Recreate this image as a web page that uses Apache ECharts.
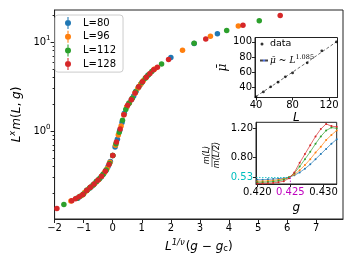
<!DOCTYPE html>
<html><head><meta charset="utf-8">
<script src="https://cdn.jsdelivr.net/npm/echarts@6/dist/echarts.min.js"></script>
<style>html,body{margin:0;padding:0;background:#fff}#c{width:347px;height:263px}</style>
</head><body><div id="c"></div>
<script>
// ---- main collapse plot data ----
const seriesNames = ['L=80', 'L=96', 'L=112', 'L=128'];
const L80_x = [-1.2,-0.88,-0.8,-0.72,-0.64,-0.56,-0.48,-0.4,-0.32,-0.24,-0.16,-0.08,0,0.08,0.16,0.24,0.32,0.4,0.48,0.56,0.64,0.72,0.8,0.88,0.96,1.2,2.0,2.8,3.6];
const L80_y = [0.176,0.217,0.228,0.240,0.254,0.270,0.286,0.305,0.329,0.358,0.40,0.455,0.53,0.66,0.81,1.01,1.25,1.58,1.86,2.05,2.24,2.48,2.80,3.08,3.36,4.20,6.70,9.6,12.4];
const L96_x = [-1.44,-1.056,-0.96,-0.864,-0.768,-0.672,-0.576,-0.48,-0.384,-0.288,-0.192,-0.096,0,0.096,0.192,0.288,0.384,0.48,0.576,0.672,0.768,0.864,0.96,1.056,1.152,1.44,2.4,3.36,4.32];
const L96_y = [0.163,0.190,0.205,0.219,0.233,0.248,0.266,0.286,0.310,0.339,0.38,0.445,0.53,0.69,0.90,1.14,1.52,1.86,2.08,2.33,2.67,3.02,3.36,3.70,4.03,4.96,8.07,11.6,15.1];
const L112_x = [-1.68,-1.232,-1.12,-1.008,-0.896,-0.784,-0.672,-0.56,-0.448,-0.336,-0.224,-0.112,0,0.112,0.224,0.336,0.448,0.56,0.672,0.784,0.896,1.008,1.12,1.232,1.344,1.68,2.8,3.92,5.04];
const L112_y = [0.149,0.176,0.185,0.196,0.215,0.231,0.248,0.270,0.293,0.324,0.365,0.43,0.53,0.72,0.97,1.32,1.75,2.05,2.33,2.74,3.14,3.53,3.92,4.30,4.65,5.65,9.67,13.5,17.3];
const L128_x = [-1.92,-1.408,-1.28,-1.152,-1.024,-0.896,-0.768,-0.64,-0.512,-0.384,-0.256,-0.128,0,0.128,0.256,0.384,0.512,0.64,0.768,0.896,1.024,1.152,1.28,1.408,1.536,1.92,3.2,4.48,5.76];
const L128_y = [0.135,0.165,0.173,0.182,0.193,0.215,0.233,0.254,0.279,0.310,0.352,0.42,0.53,0.75,1.05,1.52,1.95,2.24,2.67,3.14,3.58,4.03,4.44,4.87,5.22,6.35,10.8,15.4,19.8];
const mainXTicks = [-2,-1,0,1,2,3,4,5,6,7];
const mainYTicks = [1, 10];
const mainYMinorTicks = [0.2,0.3,0.4,0.5,0.6,0.7,0.8,0.9,2,3,4,5,6,7,8,9,20];

// ---- inset 1: mu vs L ----
const muL = [40,48,56,64,72,80,96,112,128];
const muVal = [27.6,34.2,40.8,47.0,54.0,59.2,72.4,88.2,100.0];
const fitL = [40,64,96,128];
const fitMu = [28.3,47.2,73.3,100.1];
const in1XTicks = [40,80,120];
const in1YTicks = [40,60,80,100];

// ---- inset 2: m(L)/m(L/2) vs g ----
const gVals = [0.4200,0.4208,0.4216,0.4224,0.4232,0.4240,0.4248,0.4256,0.4264,0.4272,0.4280,0.4288,0.4296,0.4304,0.4312,0.4320];
const r80  = [0.50,0.50,0.505,0.51,0.515,0.52,0.535,0.56,0.60,0.65,0.71,0.78,0.85,0.92,0.99,1.05];
const r96  = [0.48,0.48,0.485,0.49,0.50,0.51,0.535,0.57,0.63,0.70,0.78,0.87,0.95,1.04,1.11,1.17];
const r112 = [0.465,0.465,0.47,0.475,0.485,0.50,0.53,0.59,0.68,0.78,0.88,0.99,1.09,1.17,1.21,1.20];
const r128 = [0.45,0.45,0.452,0.457,0.467,0.48,0.52,0.60,0.73,0.85,0.97,1.09,1.19,1.26,1.23,1.22];
const gCross = 0.425, rCross = 0.53;
const in2XTicks = [0.420,0.425,0.430];
const in2YTicks = [0.53,0.80,1.20];

const colors = ['#1f77b4','#ff7f0e','#2ca02c','#d62728'];
const FONT = 'DejaVu Sans';
const zip = (a,b) => a.map((v,i)=>[v,b[i]]);
const mainX = [L80_x, L96_x, L112_x, L128_x];
const mainY = [L80_y, L96_y, L112_y, L128_y];
const ratios = [r80, r96, r112, r128];
const errIcon = 'path://M9.3,2h1.4v16h-1.4z M14,10a4,4 0 1,1 -8,0a4,4 0 1,1 8,0z';
const dotIcon = 'path://M0,0h0.01v0.01h-0.01z M8,3h-0.01v-0.01h0.01z M3.5,1.5a1.5,1.5 0 1,1 -3,0a1.5,1.5 0 1,1 3,0z';

const axisCol = '#222';
const baseLabel = {fontFamily: FONT, fontSize: 10, color: '#000'};
const line = {onZero: false, lineStyle: {color: axisCol}};

const option = {
  animation: false,
  backgroundColor: '#fff',
  grid: [
    {left: 51, top: 10, width: 292, height: 209, show: true, borderColor: axisCol, borderWidth: 1, backgroundColor: 'transparent'},
    {left: 255, top: 37.5, width: 82.5, height: 60, show: true, borderColor: axisCol, borderWidth: 1, backgroundColor: '#fff'},
    {left: 256, top: 122.3, width: 80.7, height: 61.7, show: true, borderColor: axisCol, borderWidth: 1, backgroundColor: '#fff'}
  ],
  xAxis: [
    {gridIndex: 0, type: 'value', min: -2, max: 7.92, position: 'bottom',
     axisLine: line, splitLine: {show: false},
     axisTick: {customValues: mainXTicks, length: 4, lineStyle: {color: axisCol}},
     axisLabel: Object.assign({customValues: mainXTicks, margin: 4, formatter: v => String(v).replace('-', '\u2212')}, baseLabel),
     name: '{i|L}{sup|1/\u03bd}{n|(}{i|g}{n| \u2212 }{i|g}{sub|c}{n|)}', nameLocation: 'middle', nameGap: 18,
     nameTextStyle: {rich: {
       i: {fontFamily: FONT, fontSize: 12, fontStyle: 'italic', color: '#000'},
       n: {fontFamily: FONT, fontSize: 12, color: '#000'},
       sup: {fontFamily: FONT, fontSize: 8.5, fontStyle: 'italic', color: '#000', padding: [0,1,8,0]},
       sub: {fontFamily: FONT, fontSize: 8.5, color: '#000', padding: [5,0,0,0]}
     }}},
    {gridIndex: 1, type: 'value', min: 38.8, max: 129.2, position: 'bottom',
     axisLine: line, splitLine: {show: false},
     axisTick: {customValues: in1XTicks, length: 3, lineStyle: {color: axisCol}},
     axisLabel: Object.assign({customValues: in1XTicks, margin: 3}, baseLabel),
     name: 'L', nameLocation: 'middle', nameGap: 13,
     nameTextStyle: {fontFamily: FONT, fontSize: 12, fontStyle: 'italic', color: '#000'}},
    {gridIndex: 2, type: 'value', min: 0.4198, max: 0.4320, position: 'bottom',
     axisLine: line, splitLine: {show: false},
     axisTick: {customValues: in2XTicks, length: 3, lineStyle: {color: axisCol}},
     axisLabel: Object.assign({customValues: in2XTicks, margin: 3, formatter: v => v.toFixed(3)}, baseLabel,
       {color: v => Math.abs(v - gCross) < 1e-6 ? '#bf00bf' : '#000'}),
     name: 'g', nameLocation: 'middle', nameGap: 18,
     nameTextStyle: {fontFamily: FONT, fontSize: 12, fontStyle: 'italic', color: '#000'}}
  ],
  yAxis: [
    {gridIndex: 0, type: 'log', logBase: 10, min: 0.1026, max: 22.9, position: 'left',
     axisLine: Object.assign({show: true}, line), splitLine: {show: false}, minorTick: {show: false},
     axisTick: {customValues: mainYTicks, length: 4, lineStyle: {color: axisCol}},
     axisLabel: Object.assign({customValues: mainYTicks, margin: 4,
       formatter: v => '{b|10}{s|' + Math.round(Math.log10(v)) + '}',
       rich: {b: {fontFamily: FONT, fontSize: 10, color: '#000'}, s: {fontFamily: FONT, fontSize: 7, color: '#000', padding: [0,0,7,0]}}}, baseLabel),
     name: '{i|L}{sup|x}{i|m}{n|(}{i|L}{n|, }{i|g}{n|)}', nameLocation: 'middle', nameGap: 26, nameRotate: 90,
     nameTextStyle: {rich: {
       i: {fontFamily: FONT, fontSize: 12, fontStyle: 'italic', color: '#000'},
       n: {fontFamily: FONT, fontSize: 12, color: '#000'},
       sup: {fontFamily: FONT, fontSize: 8.5, fontStyle: 'italic', color: '#000', padding: [0,1,8,0]}
     }}},
    {gridIndex: 0, type: 'log', logBase: 10, min: 0.1026, max: 22.9, position: 'left', offset: 0,
     axisLine: {show: false, onZero: false}, splitLine: {show: false},
     axisTick: {customValues: mainYMinorTicks, length: 2, lineStyle: {color: axisCol}},
     axisLabel: {show: false}},
    {gridIndex: 1, type: 'value', min: 26.8, max: 105.8, position: 'left',
     axisLine: line, splitLine: {show: false},
     axisTick: {customValues: in1YTicks, length: 3, lineStyle: {color: axisCol}},
     axisLabel: Object.assign({customValues: in1YTicks, margin: 3}, baseLabel),
     name: '\u03bc\u0304', nameLocation: 'middle', nameGap: 24, nameRotate: 90,
     nameTextStyle: {fontFamily: 'DejaVu Serif', fontSize: 12, fontStyle: 'italic', color: '#000'}},
    {gridIndex: 2, type: 'value', min: 0.442, max: 1.282, position: 'left',
     axisLine: line, splitLine: {show: false},
     axisTick: {customValues: in2YTicks, length: 3, lineStyle: {color: axisCol}},
     axisLabel: Object.assign({customValues: in2YTicks, margin: 3, formatter: v => v.toFixed(2)}, baseLabel,
       {color: v => Math.abs(v - rCross) < 1e-6 ? '#00bfbf' : '#000'})}
  ],
  legend: [
    {data: seriesNames.map(n => ({name: n, icon: errIcon})), orient: 'vertical', left: 55, top: 15,
     itemWidth: 6, itemHeight: 12, itemGap: 1.7, padding: [2, 7, 2, 10],
     backgroundColor: 'rgba(255,255,255,0.8)', borderColor: '#ccc', borderWidth: 1, borderRadius: 3,
     textStyle: {fontFamily: FONT, fontSize: 10, color: '#000', padding: [0,0,0,7]}},
    {data: [{name: 'data', icon: dotIcon}, {name: 'fit'}], orient: 'vertical', left: 259, top: 39,
     itemWidth: 8, itemHeight: 3, itemGap: 5, padding: 0,
     formatter: n => n === 'fit' ? '{m|\u03bc\u0304} {n|~} {m|L}{s|1.085}' : 'data',
     textStyle: {fontFamily: FONT, fontSize: 9.5, color: '#000', padding: [0,0,0,-3],
       rich: {m: {fontFamily: 'DejaVu Serif', fontStyle: 'italic', fontSize: 9, color: '#000'},
              n: {fontFamily: 'DejaVu Serif', fontSize: 9, color: '#000'},
              s: {fontFamily: 'DejaVu Serif', fontSize: 6.5, color: '#000', padding: [0,0,6,0]}}}}
  ],
  series: [
    ...seriesNames.map((n, i) => ({
      name: n, type: 'scatter', xAxisIndex: 0, yAxisIndex: 0, data: zip(mainX[i], mainY[i]),
      symbolSize: 5.5, itemStyle: {color: colors[i], opacity: 1}, emphasis: {disabled: true}, z: 2 + i
    })),
    {name: 'data', type: 'scatter', xAxisIndex: 1, yAxisIndex: 2, data: zip(muL, muVal),
     symbolSize: 2.8, itemStyle: {color: '#000'}, emphasis: {disabled: true}, z: 10},
    {name: 'fit', type: 'line', xAxisIndex: 1, yAxisIndex: 2, data: zip(fitL, fitMu), symbol: 'none',
     lineStyle: {color: '#444', width: 0.8, type: [3, 2]}, emphasis: {disabled: true}, z: 9},
    ...seriesNames.map((n, i) => ({
      name: n + ' ratio', type: 'line', xAxisIndex: 2, yAxisIndex: 3, data: zip(gVals, ratios[i]),
      symbol: 'circle', symbolSize: 2, showSymbol: true,
      lineStyle: {color: colors[i], width: 0.8, opacity: 0.85}, itemStyle: {color: colors[i]},
      emphasis: {disabled: true}, z: 10 + i
    })),
    {name: 'hline', type: 'line', xAxisIndex: 2, yAxisIndex: 3, data: [[0.4198, rCross], [gCross, rCross]],
     symbol: 'none', lineStyle: {color: '#00bfbf', width: 0.8, type: [1.5, 1.5]}, z: 20},
    {name: 'vline', type: 'line', xAxisIndex: 2, yAxisIndex: 3, data: [[gCross, rCross], [gCross, 0.442]],
     symbol: 'none', lineStyle: {color: '#bf00bf', width: 0.8, type: [1.5, 1.5]}, z: 20}
  ],
  graphic: [
    {type: 'group', x: 212, y: 155, rotation: Math.PI / 2, children: [
      {type: 'text', x: 0, y: -5, style: {text: 'm(L)', font: 'italic 8px "DejaVu Sans"', fill: '#000', align: 'center', verticalAlign: 'middle'}},
      {type: 'line', shape: {x1: -12, y1: 0, x2: 12, y2: 0}, style: {stroke: '#000', lineWidth: 0.6}},
      {type: 'text', x: 0, y: 5, style: {text: 'm(L/2)', font: 'italic 8px "DejaVu Sans"', fill: '#000', align: 'center', verticalAlign: 'middle'}}
    ]}
  ]
};
const chart = echarts.init(document.getElementById('c'));
chart.setOption(option);
</script></body></html>
